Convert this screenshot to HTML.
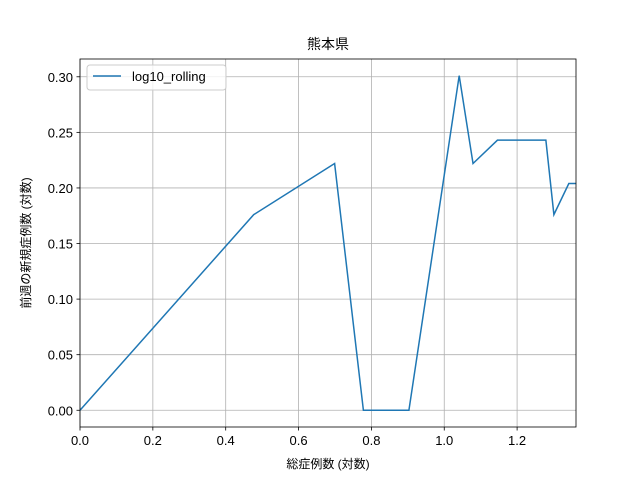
<!DOCTYPE html>
<html><head><meta charset="utf-8"><style>
body{margin:0;background:#fff;}
svg text{font-family:"Liberation Sans","Noto Sans CJK JP",sans-serif;fill:#000;}
</style></head><body>
<svg id="chart" width="640" height="480" xmlns="http://www.w3.org/2000/svg">
<rect width="640" height="480" fill="#fff"/>
<g id="grid"></g>
<g id="ticks"></g>
<polyline id="line" fill="none" stroke="#1f77b4" stroke-width="1.5"/>
<rect x="80" y="59" width="496" height="368" fill="none" stroke="#000" stroke-width="0.8"/>
<text x="328" y="49" font-size="14" text-anchor="middle">熊本県</text>
<text x="328" y="468" font-size="12" text-anchor="middle">総症例数 (対数)</text>
<text transform="translate(30,243) rotate(-90)" font-size="12" text-anchor="middle">前週の新規症例数 (対数)</text>
<g>
<rect x="87" y="65" width="139" height="25" rx="3" fill="#fff" fill-opacity="0.8" stroke="#ccc"/>
<line x1="93" y1="76" x2="121" y2="76" stroke="#1f77b4" stroke-width="1.5"/>
<text x="132" y="81" font-size="13">log10_rolling</text>
</g>
</svg>
<script>
const xs=[0,0.477,0.699,0.778,0.903,1.041,1.079,1.146,1.279,1.301,1.342,1.362];
const ys=[0,0.176,0.222,0,0,0.301,0.222,0.243,0.243,0.176,0.204,0.204];
const xTicks=[0,0.2,0.4,0.6,0.8,1.0,1.2];
const yTicks=[0,0.05,0.10,0.15,0.20,0.25,0.30];
const X0=80,X1=576,Y0=427,Y1=59,xmin=0,xmax=1.3617,ymin=-0.01505,ymax=0.316;
const sx=v=>X0+(v-xmin)/(xmax-xmin)*(X1-X0);
const sy=v=>Y0-(v-ymin)/(ymax-ymin)*(Y0-Y1);
const NS="http://www.w3.org/2000/svg";
const grid=document.getElementById('grid'),ticks=document.getElementById('ticks');
function mk(t,a,p){const e=document.createElementNS(NS,t);for(const k in a)e.setAttribute(k,a[k]);p.appendChild(e);return e;}
xTicks.forEach(v=>{const x=sx(v);
const g=mk('line',{x1:x,x2:x,y1:Y1,y2:Y0,stroke:'#b0b0b0','stroke-width':0.8},grid);


const t=mk('line',{x1:x,x2:x,y1:Y0,y2:Y0+3.5,stroke:'#000','stroke-width':0.8},ticks);


const l=mk('text',{x:x,y:Y0+18,'font-size':13,'text-anchor':'middle'},ticks);l.textContent=v.toFixed(1);

});
yTicks.forEach(v=>{const y=sy(v);
const g=mk('line',{x1:X0,x2:X1,y1:y,y2:y,stroke:'#b0b0b0','stroke-width':0.8},grid);


const t=mk('line',{x1:X0-3.5,x2:X0,y1:y,y2:y,stroke:'#000','stroke-width':0.8},ticks);


const l=mk('text',{x:X0-7,y:y+5,'font-size':13,'text-anchor':'end'},ticks);l.textContent=v.toFixed(2);

});
document.getElementById('line').setAttribute('points',xs.map((x,i)=>sx(x)+','+sy(ys[i])).join(' '));
</script>
</body></html>
